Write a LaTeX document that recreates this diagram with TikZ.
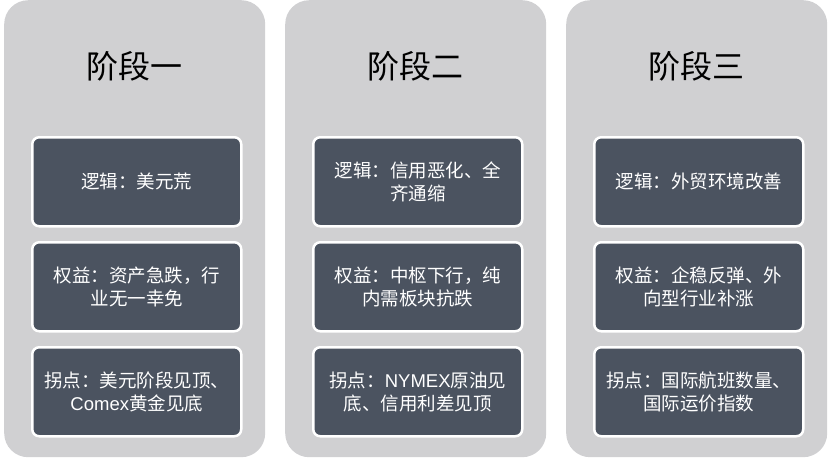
\documentclass[tikz,border=0pt]{standalone}
\usepackage{fontspec}
\setmainfont{Liberation Sans}
\newfontfamily\cjk{Noto Sans CJK SC}
\definecolor{panelc}{HTML}{D0D0D2}
\definecolor{boxc}{HTML}{4B5360}
\tikzset{
 panel/.style={fill=panelc,draw=none,rounded corners=24pt,minimum width=261pt,minimum height=457pt,anchor=north west,inner sep=0pt},
 title/.style={font=\cjk\fontsize{32}{35}\selectfont,text=black},
 itembox/.style={fill=boxc,draw=white,line width=2.5pt,rounded corners=7pt,minimum width=209pt,minimum height=89pt,anchor=north west,text=white,align=center,font=\cjk\fontsize{18.5}{23}\selectfont,inner sep=0pt}
}
\begin{document}
\begin{tikzpicture}[x=1pt,y=-1pt]
\useasboundingbox (0,0) rectangle (829,459);
\foreach \i/\x/\t in {1/4/阶段一,2/285/阶段二,3/566/阶段三}{
  \node[panel] (p\i) at (\x,0) {};
  \node[title] (t\i) at (\x+130,66) {\t};
}
\node[itembox] (a1) at (31,136) {逻辑：美元荒};
\node[itembox] (b1) at (31,241) {权益：资产急跌，行\\业无一幸免};
\node[itembox] (c1) at (31,346) {拐点：美元阶段见顶、\\\fontspec{Liberation Sans}Comex\cjk 黄金见底};
\node[itembox] (a2) at (312,136) {逻辑：信用恶化、全\\齐通缩};
\node[itembox] (b2) at (312,241) {权益：中枢下行，纯\\内需板块抗跌};
\node[itembox] (c2) at (312,346) {拐点：\fontspec{Liberation Sans}NYMEX\cjk 原油见\\底、信用利差见顶};
\node[itembox] (a3) at (593,136) {逻辑：外贸环境改善};
\node[itembox] (b3) at (593,241) {权益：企稳反弹、外\\向型行业补涨};
\node[itembox] (c3) at (593,346) {拐点：国际航班数量、\\国际运价指数};
\end{tikzpicture}
\end{document}
